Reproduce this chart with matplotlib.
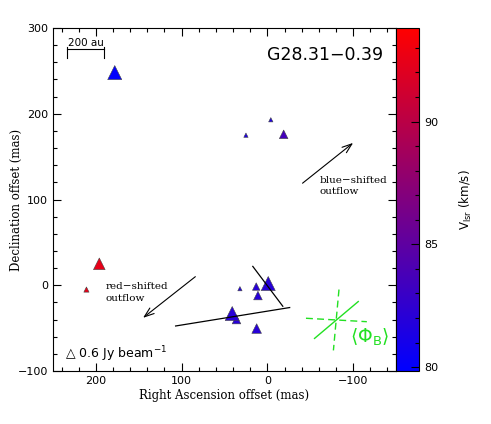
"""Water maser spots in G28.31-0.39, coloured by V_lsr, sized by flux."""
import matplotlib
matplotlib.use("Agg")
import matplotlib.pyplot as plt
from matplotlib.colors import LinearSegmentedColormap
from matplotlib.ticker import MultipleLocator

# maser spots (offsets in mas, velocity km/s, peak flux Jy/beam)
ra = [178, 25, -4, -19, 196, 211, 32, 13, 36, -1, 11, 41, 12.5]
dec = [248, 175, 193, 176, 25, -5, -4, -1.5, -40, 2, -12, -33, -50.5]
vlsr = [80.0, 81.5, 81.5, 83.6, 92.5, 92.5, 81.6, 82.0, 82.0, 82.0, 82.0, 82.0, 82.0]
flux = [1.6, 0.15, 0.15, 0.6, 1.1, 0.22, 0.15, 0.45, 0.6, 1.6, 0.6, 1.6, 0.75]

# polarisation vectors (start/end in mas)
pol_ra = [[17, -18], [107, -26]]
pol_dec = [[22, -24.5], [-47.5, -26]]

# outflow arrows (tail -> head)
red_arrow = [(84, 10), (145, -38)]
blue_arrow = [(-41, 119), (-100, 166)]

# mean magnetic field symbol
b_solid = [(-55, -62), (-106, -19)]
b_dash_h = [(-45, -38.5), (-116, -42.5)]
b_dash_v = [(-83.5, -5), (-77, -76)]

VMIN, VMAX = 79.84, 93.81
GREEN = "#22e022"

fig = plt.figure(figsize=(4.91, 4.24), dpi=100)
ax = fig.add_axes([53 / 491, 53 / 424, 343 / 491, 343 / 424])
cax = fig.add_axes([396 / 491, 53 / 424, 23 / 491, 343 / 424])

cmap = LinearSegmentedColormap.from_list("br", ["#0000ff", "#ff0000"])
sizes = [(8.0 * f ** 0.5) ** 2 for f in flux]
sc = ax.scatter(ra, dec, c=vlsr, s=sizes, marker="^", cmap=cmap,
                vmin=VMIN, vmax=VMAX, edgecolors="#444444", linewidths=0.4,
                zorder=3)

for xs, ys in zip(pol_ra, pol_dec):
    ax.plot(xs, ys, color="black", lw=0.9, zorder=4)

for (x0, y0), (x1, y1) in (red_arrow, blue_arrow):
    ax.annotate("", xy=(x1, y1), xytext=(x0, y0),
                arrowprops=dict(arrowstyle="->,head_length=0.7,head_width=0.25",
                                color="black", lw=0.8, shrinkA=0, shrinkB=0))

(x0, y0), (x1, y1) = b_solid
ax.plot([x0, x1], [y0, y1], color=GREEN, lw=1.0)
for (x0, y0), (x1, y1) in (b_dash_h, b_dash_v):
    ax.plot([x0, x1], [y0, y1], color=GREEN, lw=1.0, ls=(0, (5, 3)))
ax.text(-119, -61, r"$\langle\Phi_{\rm B}\rangle$", color=GREEN,
        fontsize=13.5, ha="center", va="center")

# 200 au scale bar
ax.plot([234, 190], [275, 275], color="black", lw=0.8)
for xb in (234, 190):
    ax.plot([xb, xb], [278, 265], color="black", lw=0.8)
ax.text(212, 277, "200 au", fontsize=7.5, ha="center", va="bottom")

ax.text(-135, 269, "G28.31\u22120.39", fontsize=12.5, ha="right", va="center")
ax.text(-61, 116, "blue\u2212shifted\noutflow", fontsize=7.5, family="DejaVu Serif",
        ha="left", va="center", linespacing=1.3)
ax.text(189, -8.5, "red\u2212shifted\noutflow", fontsize=7.5, family="DejaVu Serif",
        ha="left", va="center", linespacing=1.3)
ax.text(236, -80.5, "\u25b3 0.6 Jy beam$^{-1}$", fontsize=9, ha="left", va="center")

ax.set_xlim(250, -150)
ax.set_ylim(-100, 300)
ax.xaxis.set_major_locator(MultipleLocator(100))
ax.xaxis.set_minor_locator(MultipleLocator(20))
ax.yaxis.set_major_locator(MultipleLocator(100))
ax.yaxis.set_minor_locator(MultipleLocator(20))
ax.tick_params(which="both", direction="in", top=True, right=True, labelsize=8)
ax.tick_params(which="major", length=6, width=0.8)
ax.tick_params(which="minor", length=3, width=0.8)
ax.set_xlabel("Right Ascension offset (mas)", family="DejaVu Serif", fontsize=8.5,
              labelpad=2)
ax.set_ylabel("Declination offset (mas)", family="DejaVu Serif", fontsize=8.5)
ax.yaxis.set_label_coords(-0.088, 0.5)

cb = fig.colorbar(sc, cax=cax)
cb.outline.set_linewidth(0.8)
cax.yaxis.set_major_locator(MultipleLocator(5))
cax.yaxis.set_minor_locator(MultipleLocator(1))
cax.tick_params(which="both", direction="in", labelsize=8, width=0.8)
cax.tick_params(which="major", length=6)
cax.tick_params(which="minor", length=3)
cb.set_label(r"V$_{\rm lsr}$ (km/s)", fontsize=8.5, labelpad=14)

fig.savefig("out.png", dpi=100, facecolor="white")
